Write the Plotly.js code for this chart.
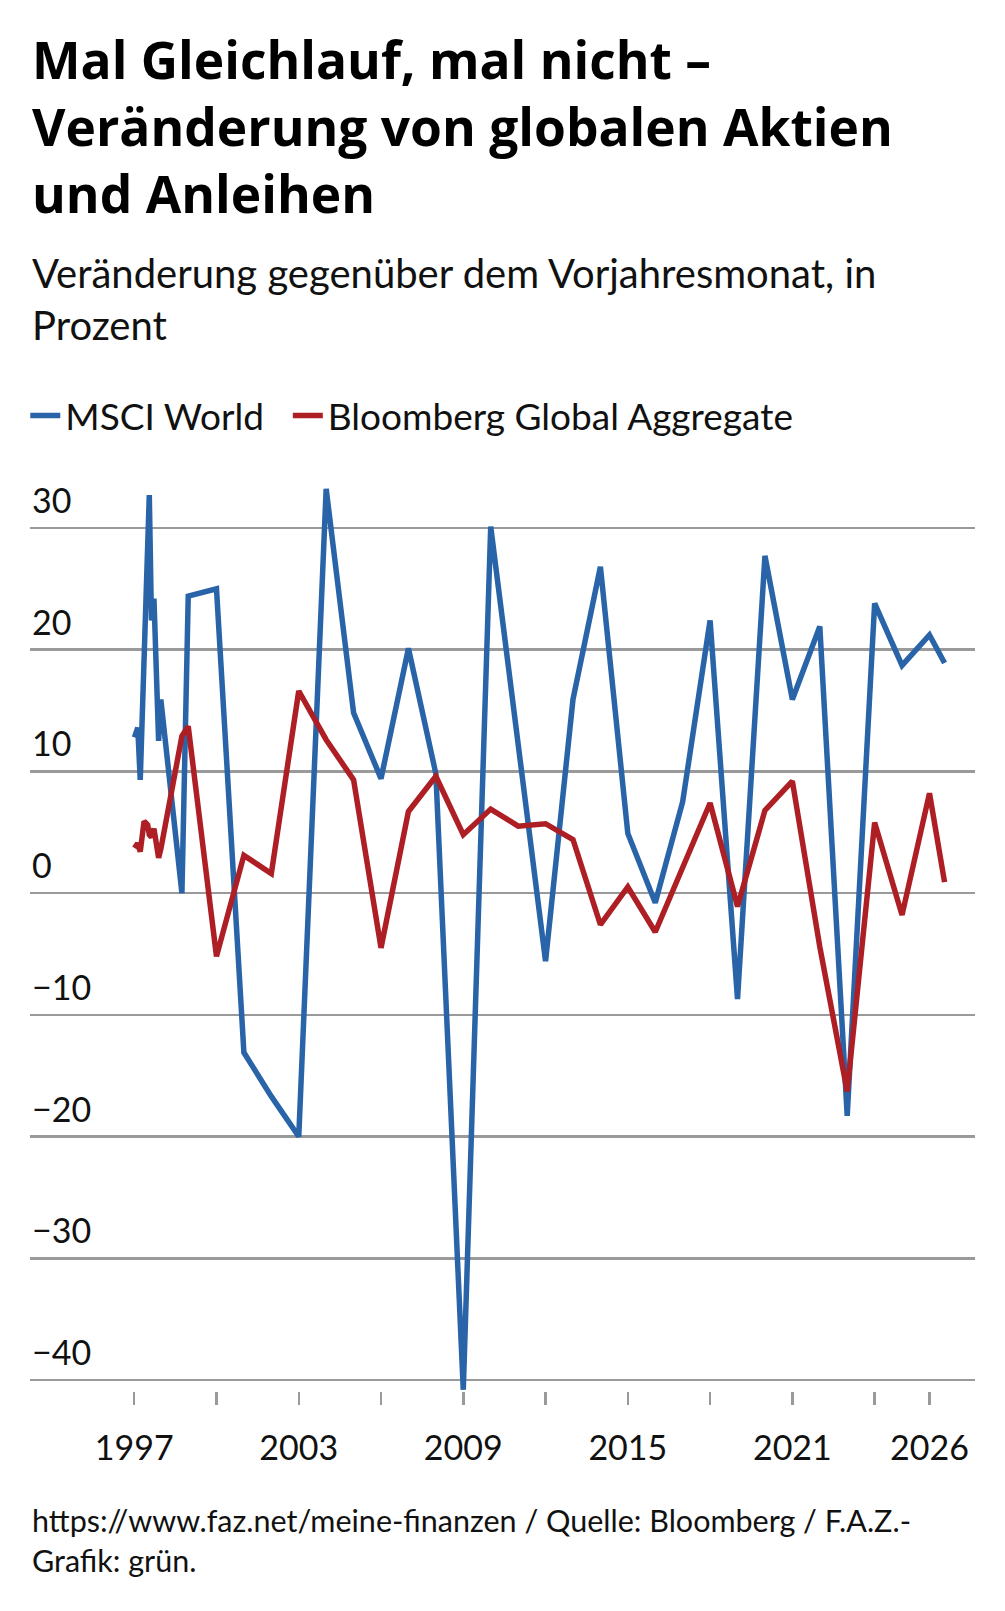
<!DOCTYPE html>
<html>
<head>
<meta charset="utf-8">
<script src="https://cdn.plot.ly/plotly-3.0.1.min.js"></script>
<style>
  html, body { margin: 0; padding: 0; background: #fff; }
  #chart { width: 1005px; height: 1611px; }
</style>
</head>
<body>
<div id="chart"></div>
<script>
// Daten
const jahre = [1997.01, 1997.13, 1997.22, 1997.36, 1997.49, 1997.55, 1997.63, 1997.72, 1997.89, 1997.97,
    1998.74, 1998.97, 2000, 2001, 2002, 2003, 2004, 2005, 2006, 2007, 2008, 2009, 2010, 2011, 2012,
    2013, 2014, 2015, 2016, 2017, 2018, 2019, 2020, 2021, 2022, 2023, 2024, 2025, 2026, 2026.55];

const msciWorld = [12.8, 13.6, 9.3, 20.5, 28.8, 32.7, 22.4, 24.2, 12.5, 15.9,
    0.0, 24.4, 25.0, -13.1, -16.7, -20.0, 33.2, 14.8, 9.4, 20.1, 9.8, -40.8, 30.1, 12.3, -5.6,
    15.9, 26.8, 4.9, -0.8, 7.5, 22.4, -8.7, 27.7, 15.9, 21.9, -18.3, 23.8, 18.7, 21.2, 18.9];

const bloombergAgg = [3.7, 4.1, 3.4, 5.9, 5.6, 4.8, 4.6, 5.3, 2.9, 3.6,
    12.9, 13.7, -5.2, 3.1, 1.6, 16.6, 12.6, 9.3, -4.5, 6.7, 9.6, 4.8, 6.9, 5.5, 5.7,
    4.4, -2.6, 0.5, -3.2, 2.2, 7.4, -1.1, 6.8, 9.2, -4.4, -16.3, 5.8, -1.8, 8.2, 0.9];

const xTickWerte = [1997, 2000, 2003, 2006, 2009, 2012, 2015, 2018, 2021, 2024, 2026];
const xTickTexte = ['1997', '', '2003', '', '2009', '', '2015', '', '2021', '', '2026'];
const yTickWerte = [30, 20, 10, 0, -10, -20, -30, -40];
const yTickTexte = ['30', '20', '10', '0', '−10', '−20', '−30', '−40'];

// ---- Seitenmaße ----
const BREITE = 1005, HOEHE = 1611;
const RAND = { l: 30, r: 30, t: 467, b: 220 };
const plotH = HOEHE - RAND.t - RAND.b;
const pyZuPaper = py => (HOEHE - RAND.b - py) / plotH;

const SCHRIFT = 'Lato, "Noto Sans", sans-serif';
const SCHRIFT_TITEL = '"Open Sans", "Noto Sans", sans-serif';
const BLAU = '#2964a8';
const ROT = '#ad1f24';
const GRAU = '#9a9a9a';

const trazas = [
    {
        x: jahre, y: msciWorld,
        type: 'scatter', mode: 'lines',
        // geschützte Leerzeichen als Abstand zum nächsten Legendeneintrag
        name: 'MSCI World\u00a0\u00a0',
        line: { color: BLAU, width: 5.5, shape: 'linear' },
        hoverinfo: 'skip'
    },
    {
        x: jahre, y: bloombergAgg,
        type: 'scatter', mode: 'lines',
        name: 'Bloomberg Global Aggregate',
        line: { color: ROT, width: 5.5, shape: 'linear' },
        hoverinfo: 'skip'
    }
];

// y-Beschriftungen oberhalb der Gitterlinien
const annotations = yTickWerte.map((v, i) => ({
    xref: 'paper', yref: 'y',
    x: 0, y: v,
    xanchor: 'left', yanchor: 'bottom',
    yshift: 6,
    showarrow: false,
    text: yTickTexte[i],
    font: { family: SCHRIFT, size: 34, color: '#111' }
}));

// Titel, Untertitel, Quelle
annotations.push({
    xref: 'paper', yref: 'paper',
    x: 0, y: pyZuPaper(22),
    xanchor: 'left', yanchor: 'top', align: 'left',
    showarrow: false,
    text: '<b>Mal Gleichlauf, mal nicht –<br>Veränderung von globalen Aktien<br>und Anleihen</b>',
    font: { family: SCHRIFT_TITEL, size: 51.5, color: '#000' }
});
annotations.push({
    xref: 'paper', yref: 'paper',
    x: 0, y: pyZuPaper(247),
    xanchor: 'left', yanchor: 'top', align: 'left',
    showarrow: false,
    text: 'Veränderung gegenüber dem Vorjahresmonat, in<br>Prozent',
    font: { family: SCHRIFT, size: 40, color: '#111' }
});
annotations.push({
    xref: 'paper', yref: 'paper',
    x: 0, y: pyZuPaper(1500),
    xanchor: 'left', yanchor: 'top', align: 'left',
    showarrow: false,
    text: 'https://www.faz.net/meine-finanzen / Quelle: Bloomberg / F.A.Z.-<br>Grafik: grün.',
    font: { family: SCHRIFT, size: 30.5, color: '#111' }
});

const layout = {
    width: BREITE, height: HOEHE,
    paper_bgcolor: '#fff', plot_bgcolor: '#fff',
    margin: RAND,
    font: { family: SCHRIFT, color: '#111' },
    showlegend: true,
    legend: {
        orientation: 'h',
        x: -0.005, xanchor: 'left',
        y: pyZuPaper(416), yanchor: 'middle',
        font: { family: SCHRIFT, size: 37, color: '#111' },
        itemwidth: 30,
        tracegroupgap: 0
    },
    xaxis: {
        range: [1993.2, 2027.66],
        tickmode: 'array',
        tickvals: xTickWerte,
        ticktext: xTickTexte,
        ticks: 'outside',
        ticklen: 13,
        tickwidth: 2.5,
        tickcolor: GRAU,
        ticklabelstandoff: 14,
        showgrid: false,
        zeroline: false,
        showline: false,
        tickfont: { family: SCHRIFT, size: 34, color: '#111' }
    },
    yaxis: {
        range: [-40.9, 35],
        tickmode: 'array',
        tickvals: yTickWerte,
        showticklabels: false,
        showgrid: true,
        gridcolor: GRAU,
        gridwidth: 2.5,
        zeroline: false,
        showline: false,
        ticks: ''
    },
    annotations: annotations
};

Plotly.newPlot('chart', trazas, layout, { displayModeBar: false, staticPlot: true });
</script>
</body>
</html>
